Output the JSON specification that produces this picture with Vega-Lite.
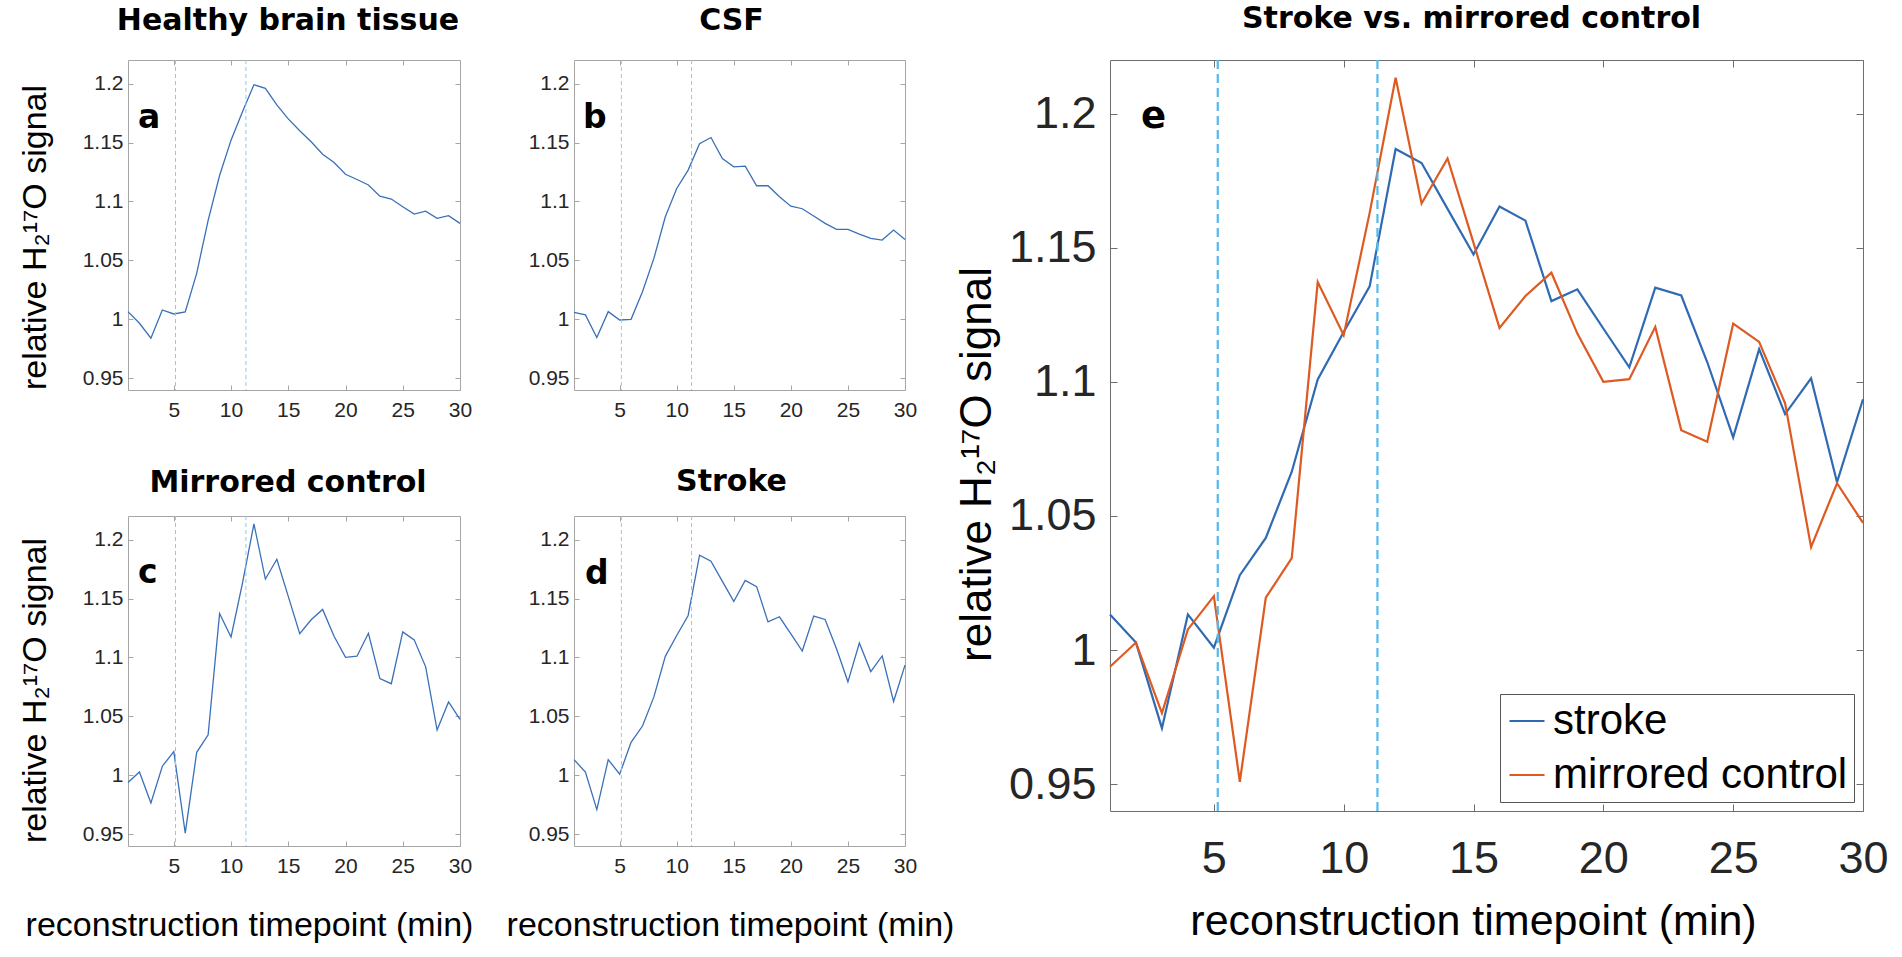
{
  "$schema": "https://vega.github.io/schema/vega-lite/v6.json",
  "autosize": {"type": "none"},
  "padding": {"left": 128, "top": 60, "right": 1774, "bottom": 897},
  "background": "white",
  "datasets": {
    "signal": [
      {"t": 1, "healthy": 1.0065, "csf": 1.0059, "control": 0.9938, "stroke": 1.0133},
      {"t": 2, "healthy": 0.9966, "csf": 1.0037, "control": 1.0028, "stroke": 1.0028},
      {"t": 3, "healthy": 0.9839, "csf": 0.9845, "control": 0.9765, "stroke": 0.9709},
      {"t": 4, "healthy": 1.0079, "csf": 1.0065, "control": 1.0077, "stroke": 1.0133},
      {"t": 5, "healthy": 1.0045, "csf": 0.9994, "control": 1.0201, "stroke": 1.0009},
      {"t": 6, "healthy": 1.0062, "csf": 1.0, "control": 0.9509, "stroke": 1.0279},
      {"t": 7, "healthy": 1.039, "csf": 1.0234, "control": 1.0195, "stroke": 1.0418},
      {"t": 8, "healthy": 1.084, "csf": 1.0517, "control": 1.0343, "stroke": 1.0665},
      {"t": 9, "healthy": 1.122, "csf": 1.087, "control": 1.1372, "stroke": 1.1009},
      {"t": 10, "healthy": 1.152, "csf": 1.111, "control": 1.1174, "stroke": 1.1186},
      {"t": 11, "healthy": 1.176, "csf": 1.1266, "control": 1.163, "stroke": 1.1356},
      {"t": 12, "healthy": 1.199, "csf": 1.149, "control": 1.2134, "stroke": 1.1868},
      {"t": 13, "healthy": 1.196, "csf": 1.1542, "control": 1.1665, "stroke": 1.1816},
      {"t": 14, "healthy": 1.182, "csf": 1.1364, "control": 1.1833, "stroke": 1.1645},
      {"t": 15, "healthy": 1.17, "csf": 1.1294, "control": 1.1518, "stroke": 1.1475},
      {"t": 16, "healthy": 1.16, "csf": 1.13, "control": 1.1201, "stroke": 1.1654},
      {"t": 17, "healthy": 1.1506, "csf": 1.1133, "control": 1.132, "stroke": 1.1601},
      {"t": 18, "healthy": 1.14, "csf": 1.1133, "control": 1.1407, "stroke": 1.1301},
      {"t": 19, "healthy": 1.133, "csf": 1.104, "control": 1.118, "stroke": 1.1345},
      {"t": 20, "healthy": 1.123, "csf": 1.096, "control": 1.1, "stroke": 1.1199},
      {"t": 21, "healthy": 1.1186, "csf": 1.0938, "control": 1.101, "stroke": 1.1054},
      {"t": 22, "healthy": 1.114, "csf": 1.0876, "control": 1.1205, "stroke": 1.1351},
      {"t": 23, "healthy": 1.1045, "csf": 1.0814, "control": 1.082, "stroke": 1.1322},
      {"t": 24, "healthy": 1.102, "csf": 1.0763, "control": 1.0777, "stroke": 1.1074},
      {"t": 25, "healthy": 1.0955, "csf": 1.0763, "control": 1.1217, "stroke": 1.0793},
      {"t": 26, "healthy": 1.0893, "csf": 1.0723, "control": 1.1149, "stroke": 1.1122},
      {"t": 27, "healthy": 1.0918, "csf": 1.0686, "control": 1.092, "stroke": 1.088},
      {"t": 28, "healthy": 1.0856, "csf": 1.0672, "control": 1.0384, "stroke": 1.1013},
      {"t": 29, "healthy": 1.0879, "csf": 1.0757, "control": 1.0622, "stroke": 1.0626},
      {"t": 30, "healthy": 1.0814, "csf": 1.0678, "control": 1.0474, "stroke": 1.0935}
    ],
    "injection": [
      {"t": 5.15},
      {"t": 11.3}
    ]
  },
  "hconcat": [
    {
      "vconcat": [
        {
          "hconcat": [
            {
              "width": 332,
              "height": 330,
              "title": {"text": "Healthy brain tissue", "fontSize": 30, "offset": 24, "dx": -6},
              "view": {"stroke": "#a6a6a6"},
              "layer": [
                {
                  "data": {"name": "signal"},
                  "mark": {"type": "line", "color": "#3a70b8", "strokeWidth": 1.3},
                  "encoding": {
                    "x": {"field": "t", "type": "quantitative", "scale": {"domain": [1, 30], "nice": false, "zero": false},
                      "axis": {"orient": "bottom", "values": [5, 10, 15, 20, 25, 30], "title": null}},
                    "y": {"field": "healthy", "type": "quantitative", "scale": {"domain": [0.94, 1.22], "nice": false, "zero": false},
                      "axis": {"orient": "left", "values": [0.95, 1, 1.05, 1.1, 1.15, 1.2], "format": "~g",
                        "title": "relative H₂¹⁷O signal", "titleX": -83, "titleY": 177, "titleBaseline": "alphabetic"}}
                  }
                },
                {
                  "data": {"name": "injection"},
                  "mark": {"type": "rule", "color": "#8ccbec", "strokeWidth": 1, "strokeDash": [4, 3]},
                  "encoding": {
                    "x": {"field": "t", "type": "quantitative",
                      "axis": {"orient": "top", "values": [5, 10, 15, 20, 25, 30], "labels": false, "title": null}}
                  }
                },
                {
                  "data": {"name": "signal"},
                  "mark": {"type": "point", "opacity": 0},
                  "encoding": {
                    "x": {"field": "t", "type": "quantitative", "axis": null},
                    "y": {"field": "healthy", "type": "quantitative",
                      "axis": {"orient": "right", "values": [0.95, 1, 1.05, 1.1, 1.15, 1.2], "labels": false, "title": null}}
                  }
                },
                {
                  "data": {"values": [{"label": "a"}]},
                  "mark": {"type": "text", "font": "DejaVu Sans", "fontWeight": "bold", "fontSize": 33, "align": "left", "baseline": "alphabetic", "color": "#000"},
                  "encoding": {
                    "text": {"field": "label"},
                    "x": {"datum": 1.87, "type": "quantitative", "axis": null},
                    "y": {"datum": 1.162, "type": "quantitative", "axis": null}
                  }
                }
              ],
              "resolve": {"axis": {"x": "independent", "y": "independent"}}
            },
            {
              "width": 331,
              "height": 330,
              "title": {"text": "CSF", "fontSize": 30, "offset": 24, "dx": -8},
              "view": {"stroke": "#a6a6a6"},
              "layer": [
                {
                  "data": {"name": "signal"},
                  "mark": {"type": "line", "color": "#3a70b8", "strokeWidth": 1.3},
                  "encoding": {
                    "x": {"field": "t", "type": "quantitative", "scale": {"domain": [1, 30], "nice": false, "zero": false},
                      "axis": {"orient": "bottom", "values": [5, 10, 15, 20, 25, 30], "title": null}},
                    "y": {"field": "csf", "type": "quantitative", "scale": {"domain": [0.94, 1.22], "nice": false, "zero": false},
                      "axis": {"orient": "left", "values": [0.95, 1, 1.05, 1.1, 1.15, 1.2], "format": "~g", "title": null}}
                  }
                },
                {
                  "data": {"name": "injection"},
                  "mark": {"type": "rule", "color": "#8ccbec", "strokeWidth": 1, "strokeDash": [4, 3]},
                  "encoding": {
                    "x": {"field": "t", "type": "quantitative",
                      "axis": {"orient": "top", "values": [5, 10, 15, 20, 25, 30], "labels": false, "title": null}}
                  }
                },
                {
                  "data": {"name": "signal"},
                  "mark": {"type": "point", "opacity": 0},
                  "encoding": {
                    "x": {"field": "t", "type": "quantitative", "axis": null},
                    "y": {"field": "csf", "type": "quantitative",
                      "axis": {"orient": "right", "values": [0.95, 1, 1.05, 1.1, 1.15, 1.2], "labels": false, "title": null}}
                  }
                },
                {
                  "data": {"values": [{"label": "b"}]},
                  "mark": {"type": "text", "font": "DejaVu Sans", "fontWeight": "bold", "fontSize": 33, "align": "left", "baseline": "alphabetic", "color": "#000"},
                  "encoding": {
                    "text": {"field": "label"},
                    "x": {"datum": 1.79, "type": "quantitative", "axis": null},
                    "y": {"datum": 1.162, "type": "quantitative", "axis": null}
                  }
                }
              ],
              "resolve": {"axis": {"x": "independent", "y": "independent"}}
            }
          ],
          "spacing": 114,
          "bounds": "flush"
        },
        {
          "hconcat": [
            {
              "width": 332,
              "height": 330,
              "title": {"text": "Mirrored control", "fontSize": 30, "offset": 18, "dx": -6},
              "view": {"stroke": "#a6a6a6"},
              "layer": [
                {
                  "data": {"name": "signal"},
                  "mark": {"type": "line", "color": "#3a70b8", "strokeWidth": 1.3},
                  "encoding": {
                    "x": {"field": "t", "type": "quantitative", "scale": {"domain": [1, 30], "nice": false, "zero": false},
                      "axis": {"orient": "bottom", "values": [5, 10, 15, 20, 25, 30],
                        "title": "reconstruction timepoint (min)", "titleX": 121, "titleY": 89, "titleBaseline": "alphabetic"}},
                    "y": {"field": "control", "type": "quantitative", "scale": {"domain": [0.94, 1.22], "nice": false, "zero": false},
                      "axis": {"orient": "left", "values": [0.95, 1, 1.05, 1.1, 1.15, 1.2], "format": "~g",
                        "title": "relative H₂¹⁷O signal", "titleX": -83, "titleY": 174, "titleBaseline": "alphabetic"}}
                  }
                },
                {
                  "data": {"name": "injection"},
                  "mark": {"type": "rule", "color": "#8ccbec", "strokeWidth": 1, "strokeDash": [4, 3]},
                  "encoding": {
                    "x": {"field": "t", "type": "quantitative",
                      "axis": {"orient": "top", "values": [5, 10, 15, 20, 25, 30], "labels": false, "title": null}}
                  }
                },
                {
                  "data": {"name": "signal"},
                  "mark": {"type": "point", "opacity": 0},
                  "encoding": {
                    "x": {"field": "t", "type": "quantitative", "axis": null},
                    "y": {"field": "control", "type": "quantitative",
                      "axis": {"orient": "right", "values": [0.95, 1, 1.05, 1.1, 1.15, 1.2], "labels": false, "title": null}}
                  }
                },
                {
                  "data": {"values": [{"label": "c"}]},
                  "mark": {"type": "text", "font": "DejaVu Sans", "fontWeight": "bold", "fontSize": 33, "align": "left", "baseline": "alphabetic", "color": "#000"},
                  "encoding": {
                    "text": {"field": "label"},
                    "x": {"datum": 1.87, "type": "quantitative", "axis": null},
                    "y": {"datum": 1.163, "type": "quantitative", "axis": null}
                  }
                }
              ],
              "resolve": {"axis": {"x": "independent", "y": "independent"}}
            },
            {
              "width": 331,
              "height": 330,
              "title": {"text": "Stroke", "fontSize": 30, "offset": 19, "dx": -8},
              "view": {"stroke": "#a6a6a6"},
              "layer": [
                {
                  "data": {"name": "signal"},
                  "mark": {"type": "line", "color": "#3a70b8", "strokeWidth": 1.3},
                  "encoding": {
                    "x": {"field": "t", "type": "quantitative", "scale": {"domain": [1, 30], "nice": false, "zero": false},
                      "axis": {"orient": "bottom", "values": [5, 10, 15, 20, 25, 30],
                        "title": "reconstruction timepoint (min)", "titleX": 156, "titleY": 89, "titleBaseline": "alphabetic"}},
                    "y": {"field": "stroke", "type": "quantitative", "scale": {"domain": [0.94, 1.22], "nice": false, "zero": false},
                      "axis": {"orient": "left", "values": [0.95, 1, 1.05, 1.1, 1.15, 1.2], "format": "~g", "title": null}}
                  }
                },
                {
                  "data": {"name": "injection"},
                  "mark": {"type": "rule", "color": "#8ccbec", "strokeWidth": 1, "strokeDash": [4, 3]},
                  "encoding": {
                    "x": {"field": "t", "type": "quantitative",
                      "axis": {"orient": "top", "values": [5, 10, 15, 20, 25, 30], "labels": false, "title": null}}
                  }
                },
                {
                  "data": {"name": "signal"},
                  "mark": {"type": "point", "opacity": 0},
                  "encoding": {
                    "x": {"field": "t", "type": "quantitative", "axis": null},
                    "y": {"field": "stroke", "type": "quantitative",
                      "axis": {"orient": "right", "values": [0.95, 1, 1.05, 1.1, 1.15, 1.2], "labels": false, "title": null}}
                  }
                },
                {
                  "data": {"values": [{"label": "d"}]},
                  "mark": {"type": "text", "font": "DejaVu Sans", "fontWeight": "bold", "fontSize": 33, "align": "left", "baseline": "alphabetic", "color": "#000"},
                  "encoding": {
                    "text": {"field": "label"},
                    "x": {"datum": 1.96, "type": "quantitative", "axis": null},
                    "y": {"datum": 1.1627, "type": "quantitative", "axis": null}
                  }
                }
              ],
              "resolve": {"axis": {"x": "independent", "y": "independent"}}
            }
          ],
          "spacing": 114,
          "bounds": "flush"
        }
      ],
      "spacing": 456,
      "bounds": "flush"
    },
    {
      "width": 753,
      "height": 751,
      "title": {"text": "Stroke vs. mirrored control", "fontSize": 30, "offset": 25, "dx": -15},
      "view": {"stroke": "#6e6e6e"},
      "layer": [
        {
          "data": {"name": "signal"},
          "transform": [{"fold": ["stroke", "control"], "as": ["series", "value"]}],
          "mark": {"type": "line", "strokeWidth": 2.2},
          "encoding": {
            "x": {"field": "t", "type": "quantitative", "scale": {"domain": [1, 30], "nice": false, "zero": false},
              "axis": {"orient": "bottom", "values": [5, 10, 15, 20, 25, 30], "tickSize": -7, "tickColor": "#6e6e6e",
                "labelFontSize": 45, "labelPadding": 68,
                "title": "reconstruction timepoint (min)", "titleFontSize": 43, "titleX": 363, "titleY": 123, "titleBaseline": "alphabetic"}},
            "y": {"field": "value", "type": "quantitative", "scale": {"domain": [0.94, 1.22], "nice": false, "zero": false},
              "axis": {"orient": "left", "values": [0.95, 1, 1.05, 1.1, 1.15, 1.2], "format": "~g", "tickSize": -7, "tickColor": "#6e6e6e",
                "labelFontSize": 45, "labelPadding": 21,
                "title": "relative H₂¹⁷O signal", "titleFontSize": 44, "titleX": -120, "titleY": 404, "titleBaseline": "alphabetic"}},
            "color": {"field": "series", "type": "nominal",
              "scale": {"domain": ["stroke", "control"], "range": ["#2f6ab3", "#dd5a22"]},
              "legend": {"title": null, "orient": "bottom-right", "offset": 9,
                "labelExpr": "datum.label == 'control' ? 'mirrored control' : datum.label",
                "strokeColor": "#555555", "fillColor": "white", "padding": 6, "rowPadding": 12,
                "symbolType": "stroke", "symbolSize": 1225, "symbolStrokeWidth": 2.2,
                "labelFont": "Liberation Sans", "labelFontSize": 42, "labelColor": "#000", "labelOffset": 5, "labelLimit": 0}}
          }
        },
        {
          "data": {"name": "injection"},
          "mark": {"type": "rule", "color": "#55b9ea", "strokeWidth": 2.2, "strokeDash": [9, 5]},
          "encoding": {
            "x": {"field": "t", "type": "quantitative",
              "axis": {"orient": "top", "values": [5, 10, 15, 20, 25, 30], "labels": false, "title": null, "tickSize": -7, "tickColor": "#6e6e6e"}}
          }
        },
        {
          "data": {"name": "signal"},
          "mark": {"type": "point", "opacity": 0},
          "encoding": {
            "x": {"field": "t", "type": "quantitative", "axis": null},
            "y": {"field": "stroke", "type": "quantitative",
              "axis": {"orient": "right", "values": [0.95, 1, 1.05, 1.1, 1.15, 1.2], "labels": false, "title": null, "tickSize": -7, "tickColor": "#6e6e6e"}}
          }
        },
        {
          "data": {"values": [{"label": "e"}]},
          "mark": {"type": "text", "font": "DejaVu Sans", "fontWeight": "bold", "fontSize": 37, "align": "left", "baseline": "alphabetic", "color": "#000"},
          "encoding": {
            "text": {"field": "label"},
            "x": {"datum": 2.19, "type": "quantitative", "axis": null},
            "y": {"datum": 1.1945, "type": "quantitative", "axis": null}
          }
        }
      ],
      "resolve": {"axis": {"x": "independent", "y": "independent"}}
    }
  ],
  "spacing": 982,
  "bounds": "flush",
  "resolve": {"scale": {"color": "independent"}, "legend": {"color": "independent"}},
  "config": {
    "font": "Liberation Sans",
    "axis": {
      "grid": false,
      "domain": false,
      "labelFlush": false,
      "labelOverlap": false,
      "tickSize": -5,
      "tickColor": "#a6a6a6",
      "labelFont": "Liberation Sans",
      "labelFontSize": 21,
      "labelColor": "#262626",
      "titleFont": "Liberation Sans",
      "titleFontWeight": "normal",
      "titleFontSize": 34,
      "titleColor": "#000"
    },
    "axisBottom": {"labelPadding": 31, "labelBaseline": "alphabetic"},
    "axisLeft": {"labelPadding": 10},
    "title": {"font": "DejaVu Sans", "fontWeight": "bold", "color": "#000", "anchor": "middle", "frame": "group", "baseline": "alphabetic"}
  }
}
